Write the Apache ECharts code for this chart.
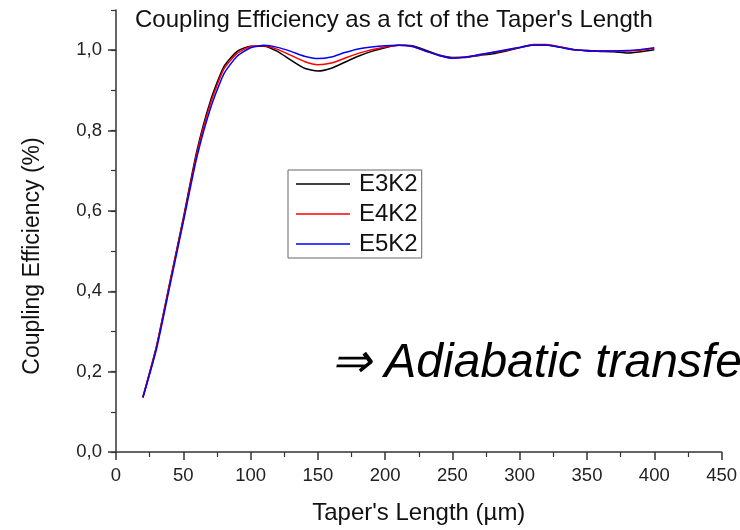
<!DOCTYPE html>
<html>
<head>
<meta charset="utf-8">
<script src="https://cdn.jsdelivr.net/npm/echarts@6/dist/echarts.min.js"></script>
<style>
  html, body { margin: 0; padding: 0; background: #fff; }
  #chart { width: 740px; height: 530px; }
</style>
</head>
<body>
<div id="chart"></div>
<script>
// taper length (µm)
var taperLength = [20, 30, 40, 50, 60, 70, 80, 90, 100, 110, 120, 130, 140, 150, 160, 170, 180, 190, 200,
  210, 220, 230, 240, 250, 260, 270, 280, 290, 300, 310, 320, 330, 340, 350, 360, 370, 380, 390, 400]

var e3k2 = [0.137, 0.262, 0.422, 0.582, 0.748, 0.872, 0.958, 0.997, 1.010, 1.010, 0.997, 0.975, 0.955, 0.948,
  0.955, 0.970, 0.985, 0.997, 1.006, 1.012, 1.011, 1.000, 0.988, 0.982, 0.982, 0.987, 0.991, 0.998, 1.006,
  1.013, 1.013, 1.008, 1.002, 0.998, 0.997, 0.996, 0.993, 0.996, 1.001]

var e4k2 = [0.136, 0.260, 0.420, 0.578, 0.742, 0.865, 0.952, 0.992, 1.009, 1.011, 1.002, 0.987, 0.972, 0.964,
  0.968, 0.980, 0.992, 1.001, 1.008, 1.012, 1.010, 0.998, 0.987, 0.981, 0.983, 0.988, 0.994, 1.000, 1.007,
  1.014, 1.014, 1.008, 1.001, 0.999, 0.998, 0.998, 0.998, 1.000, 1.004]

var e5k2 = [0.135, 0.255, 0.413, 0.572, 0.732, 0.853, 0.940, 0.985, 1.006, 1.012, 1.007, 0.997, 0.985, 0.979,
  0.983, 0.994, 1.003, 1.008, 1.011, 1.012, 1.009, 0.998, 0.987, 0.980, 0.983, 0.989, 0.995, 1.001, 1.007,
  1.013, 1.013, 1.007, 1.001, 0.999, 0.998, 0.998, 0.999, 1.002, 1.006]

var yMajorTicks = [0, 0.2, 0.4, 0.6, 0.8, 1.0]

var seriesNames = ['E3K2', 'E4K2', 'E5K2']
var seriesColors = ['#000000', '#ff0000', '#0000ff']

var font = "'Liberation Sans', Arial, sans-serif"
var axisColor = '#333'

function pairs(ys) {
  return ys.map(function (y, i) { return [taperLength[i], y] })
}

var chart = echarts.init(document.getElementById('chart'))

chart.setOption({
  animation: false,
  backgroundColor: '#fff',
  textStyle: { fontFamily: font },
  title: {
    text: "Coupling Efficiency as a fct of the Taper's Length",
    left: 135,
    top: 8,
    padding: 0,
    textStyle: { fontFamily: font, fontSize: 24, fontWeight: 'normal', color: '#111' }
  },
  grid: {
    left: 116,
    right: 14,
    top: 10,
    bottom: 74
  },
  legend: {
    orient: 'vertical',
    left: 288,
    top: 170,
    data: seriesNames,
    icon: 'rect',
    itemWidth: 54,
    itemHeight: 1.5,
    itemGap: 6,
    borderColor: '#666',
    borderWidth: 1,
    borderRadius: 0,
    padding: [2, 4, 2, 8],
    textStyle: { fontFamily: font, fontSize: 24, color: '#111', padding: [0, 0, 0, 4] }
  },
  xAxis: {
    type: 'value',
    min: 0,
    max: 450,
    interval: 50,
    name: "Taper's Length (µm)",
    nameLocation: 'middle',
    nameGap: 49,
    nameTextStyle: { fontFamily: font, fontSize: 24, color: '#111' },
    splitLine: { show: false },
    axisLine: { lineStyle: { color: axisColor, width: 1.5 } },
    axisTick: { length: 8, lineStyle: { color: axisColor, width: 1.5 } },
    minorTick: { show: true, splitNumber: 2, length: 5, lineStyle: { color: axisColor, width: 1.2 } },
    axisLabel: { fontFamily: font, fontSize: 18.5, color: '#222', margin: 14 }
  },
  yAxis: [{
    type: 'value',
    min: 0,
    max: 1.1,
    interval: 0.2,
    splitLine: { show: false },
    axisLine: { show: true, lineStyle: { color: axisColor, width: 1.5 } },
    axisTick: { show: true, length: 8, customValues: yMajorTicks, lineStyle: { color: axisColor, width: 1.5 } },
    axisLabel: {
      fontFamily: font, fontSize: 18.5, color: '#222', margin: 14,
      customValues: yMajorTicks,
      formatter: function (v) { return v.toFixed(1).replace('.', ',') }
    }
  }, {
    // short ticks every 0.1, up to the axis end
    type: 'value',
    position: 'left',
    min: 0,
    max: 1.1,
    interval: 0.1,
    splitLine: { show: false },
    axisLine: { show: false },
    axisTick: { show: true, length: 5, lineStyle: { color: axisColor, width: 1.2 } },
    axisLabel: { show: false }
  }],
  graphic: [{
    // y axis name, sits a bit below the axis middle in the original
    type: 'text',
    x: 33,
    y: 256,
    rotation: Math.PI / 2,
    style: {
      text: 'Coupling Efficiency (%)',
      fontFamily: font,
      fontSize: 23,
      fill: '#111',
      align: 'center',
      verticalAlign: 'middle'
    }
  }, {
    type: 'text',
    left: 331,
    top: 340,
    style: {
      text: '⇒ Adiabatic transfer',
      fontFamily: font,
      fontSize: 48,
      fontStyle: 'italic',
      fill: '#000'
    }
  }],
  series: [e3k2, e4k2, e5k2].map(function (ys, i) {
    return {
      name: seriesNames[i],
      type: 'line',
      data: pairs(ys),
      symbol: 'none',
      smooth: 0.2,
      color: seriesColors[i],
      lineStyle: { color: seriesColors[i], width: 1.5 }
    }
  })
})
</script>
</body>
</html>
